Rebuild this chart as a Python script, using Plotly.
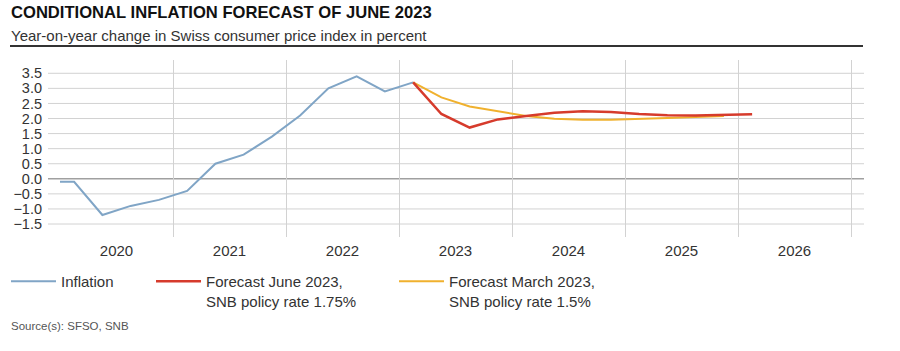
import plotly.graph_objects as go

# ---------------- data ----------------
infl_quarters = ["2019-Q4", "2020-Q1", "2020-Q2", "2020-Q3", "2020-Q4",
                 "2021-Q1", "2021-Q2", "2021-Q3", "2021-Q4",
                 "2022-Q1", "2022-Q2", "2022-Q3", "2022-Q4", "2023-Q1"]
inflation = [-0.1, -0.1, -1.2, -0.9, -0.7, -0.4, 0.5, 0.8, 1.4, 2.1, 3.0, 3.4, 2.9, 3.2]

june_quarters = ["2023-Q1", "2023-Q2", "2023-Q3", "2023-Q4",
                 "2024-Q1", "2024-Q2", "2024-Q3", "2024-Q4",
                 "2025-Q1", "2025-Q2", "2025-Q3", "2025-Q4", "2026-Q1"]
forecast_june = [3.2, 2.15, 1.7, 1.97, 2.08, 2.19, 2.24, 2.22, 2.15, 2.11, 2.1, 2.11, 2.14]

march_quarters = ["2023-Q1", "2023-Q2", "2023-Q3", "2023-Q4",
                  "2024-Q1", "2024-Q2", "2024-Q3", "2024-Q4",
                  "2025-Q1", "2025-Q2", "2025-Q3", "2025-Q4"]
forecast_march = [3.2, 2.7, 2.4, 2.24, 2.08, 1.99, 1.96, 1.96, 1.98, 2.02, 2.05, 2.08]

years = [2020, 2021, 2022, 2023, 2024, 2025, 2026]
y_ticks = [-1.5, -1.0, -0.5, 0.0, 0.5, 1.0, 1.5, 2.0, 2.5, 3.0, 3.5]

names = ["Inflation",
         "Forecast June 2023,<br>SNB policy rate 1.75%",
         "Forecast March 2023,<br>SNB policy rate 1.5%"]


def qpos(label):
    y, q = label.split("-Q")
    return int(y) + (int(q) - 0.5) / 4.0


FONT = "Liberation Sans"
TXT = "#333333"
C_BLUE = "#80a5c6"
C_RED = "#d63b2c"
C_ORANGE = "#f0b12e"
GRID = "#d2d2d2"

W, H = 900, 351
L, R, T, B = 60, 36, 60, 114
pw, ph = W - L - R, H - T - B


def px_x(px):
    return (px - L) / pw


def px_y(py):
    return (H - B - py) / ph


fig = go.Figure()

fig.add_trace(go.Scatter(x=[qpos(q) for q in infl_quarters], y=inflation, mode="lines",
                         line=dict(color=C_BLUE, width=2), name=names[0], legend="legend"))
fig.add_trace(go.Scatter(x=[qpos(q) for q in march_quarters], y=forecast_march, mode="lines",
                         line=dict(color=C_ORANGE, width=2), name=names[2], legend="legend3"))
fig.add_trace(go.Scatter(x=[qpos(q) for q in june_quarters], y=forecast_june, mode="lines",
                         line=dict(color=C_RED, width=2.5), name=names[1], legend="legend2"))

# horizontal gridlines (extend slightly left of the first year line)
shapes = []
for v in y_ticks:
    shapes.append(dict(type="line", xref="paper", yref="y", x0=px_x(48), x1=1, y0=v, y1=v,
                       line=dict(color="#a0a0a0" if v == 0 else GRID, width=1.5 if v == 0 else 1),
                       layer="below"))
# separator under the subtitle
shapes.append(dict(type="line", xref="paper", yref="paper", x0=px_x(10), x1=px_x(863),
                   y0=px_y(46), y1=px_y(46), line=dict(color="#333333", width=2)))

annotations = [
    dict(text="<b>CONDITIONAL INFLATION FORECAST OF JUNE 2023</b>", x=px_x(9), y=px_y(12),
         xref="paper", yref="paper", xanchor="left", yanchor="middle", showarrow=False,
         font=dict(family=FONT, size=16.6, color="#111111")),
    dict(text="Year-on-year change in Swiss consumer price index in percent", x=px_x(9), y=px_y(35),
         xref="paper", yref="paper", xanchor="left", yanchor="middle", showarrow=False,
         font=dict(family=FONT, size=15, color=TXT)),
    dict(text="Source(s): SFSO, SNB", x=px_x(9), y=px_y(326),
         xref="paper", yref="paper", xanchor="left", yanchor="middle", showarrow=False,
         font=dict(family=FONT, size=11.5, color="#555555")),
]

leg_common = dict(orientation="v", xref="container", yref="container", yanchor="top",
                  xanchor="left", bgcolor="rgba(0,0,0,0)", borderwidth=0, valign="top",
                  font=dict(family=FONT, size=15, color=TXT), itemwidth=45)

fig.update_layout(
    width=W, height=H,
    margin=dict(l=L, r=R, t=T, b=B, autoexpand=False),
    paper_bgcolor="white", plot_bgcolor="white",
    font=dict(family=FONT, color=TXT, size=14),
    showlegend=True,
    legend=dict(x=6 / W, y=1 - 265 / H, **leg_common),
    legend2=dict(x=151 / W, y=1 - 265 / H, **leg_common),
    legend3=dict(x=394 / W, y=1 - 265 / H, **leg_common),
    xaxis=dict(range=[2020.0, 2027.115], tickvals=[y + 0.5 for y in years],
               ticktext=[str(y) for y in years], showgrid=False, zeroline=False,
               showline=False, ticks="", tickangle=0, ticklabelstandoff=3,
               tickfont=dict(family=FONT, size=15, color=TXT),
               minor=dict(tick0=2020, dtick=1, showgrid=True, gridcolor=GRID, gridwidth=1),
               fixedrange=True),
    yaxis=dict(range=[-1.931, 3.941], tickvals=y_ticks,
               ticktext=[f"{v:.1f}".replace("-", "\u2212") for v in y_ticks],
               showgrid=False, zeroline=False, showline=False, ticks="",
               ticklabelstandoff=17, tickfont=dict(family=FONT, size=14.5, color=TXT),
               fixedrange=True),
    shapes=shapes,
    annotations=annotations,
)

fig.write_html("out.html")
